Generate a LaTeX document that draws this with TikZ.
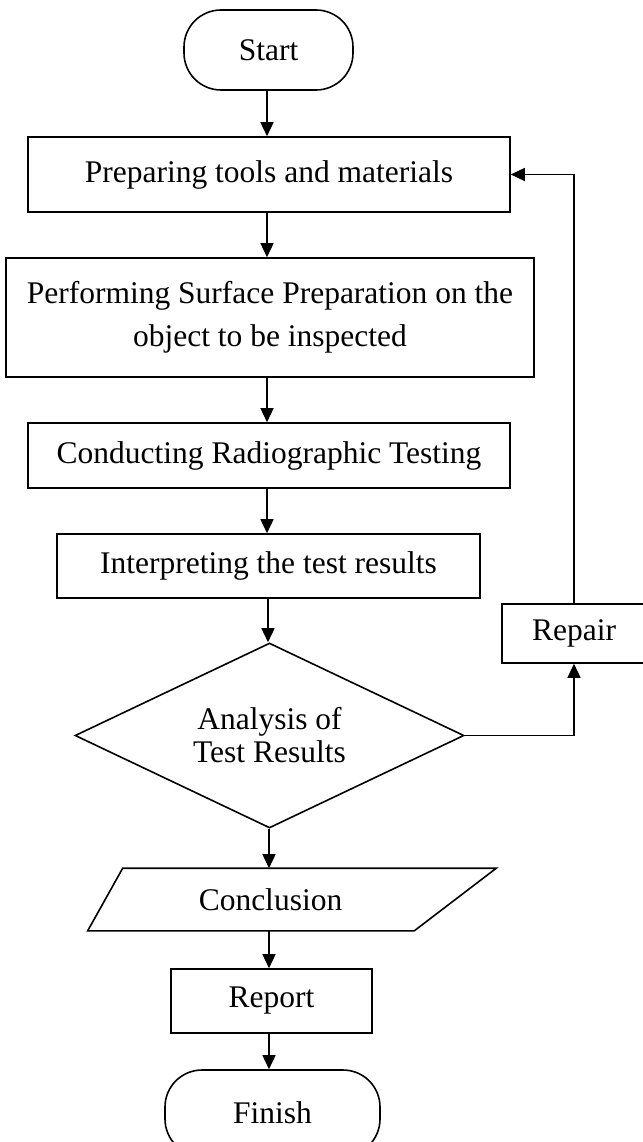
\documentclass[tikz,border=0pt]{standalone}
\usepackage{fontspec}
\setmainfont{Liberation Serif}
\usetikzlibrary{arrows.meta,shapes.geometric}
\begin{document}
\begin{tikzpicture}[x=1pt,y=-1pt,
  base/.style={line width=1.6pt, font=\fontsize{31.5}{36}\selectfont, inner sep=0pt, align=center},
  box/.style={base, draw, rectangle},
  term/.style={base, draw, rectangle, rounded corners=37pt},
  dec/.style={base, draw, diamond},
  plain/.style={base},
  arr/.style={line width=1.5pt, -{Triangle[width=13pt,length=14pt]}}
]
\useasboundingbox (0,0) rectangle (642,1142);

\node[term, minimum width=169pt, minimum height=80pt] (start) at (268.5,50) {Start};
\node[box, minimum width=482pt, minimum height=75pt] (b1) at (269,174.5) {\raisebox{6pt}{Preparing tools and materials}};
\node[box, minimum width=528pt, minimum height=119pt, font=\fontsize{31.5}{43}\selectfont] (b2) at (270,317.5) {Performing Surface Preparation on the\\object to be inspected};
\node[box, minimum width=482pt, minimum height=65pt] (b3) at (269,455.5) {Conducting Radiographic Testing};
\node[box, minimum width=423pt, minimum height=64pt] (b4) at (268.5,566) {Interpreting the test results};
\node[dec, minimum width=389pt, minimum height=185pt] (dia) at (269.5,735.5) {};
\node[plain, font=\fontsize{31.5}{33}\selectfont] (diatext) at (dia.center) {Analysis of\\Test Results};
\node[box, minimum width=144pt, minimum height=59pt] (rep) at (574,633.5) {Repair};
\node[plain, minimum width=250pt, minimum height=61pt] (concl) at (270.5,899.5) {Conclusion};
\draw[line width=1.6pt] ([xshift=-22pt]concl.north west) -- ([xshift=100pt]concl.north east) -- ([xshift=18pt]concl.south east) -- ([xshift=-57pt]concl.south west) -- cycle;
\node[box, minimum width=201pt, minimum height=64pt] (rpt) at (271.5,1001) {Report};
\node[term, minimum width=215pt, minimum height=86pt] (fin) at (272.5,1113) {\raisebox{-1pt}{Finish}};

\draw[arr] (start.south -| 267,0) -- (267,0 |- b1.north);
\draw[arr] (b1.south -| 267,0) -- (267,0 |- b2.north);
\draw[arr] (b2.south -| 267,0) -- (267,0 |- b3.north);
\draw[arr] (b3.south -| 267,0) -- (267,0 |- b4.north);
\draw[arr] (b4.south -| 268,0) -- (268,0 |- dia.north);
\draw[arr] (dia.south -| 269,0) -- (269,0 |- concl.north);
\draw[arr] (concl.south -| 269,0) -- (269,0 |- rpt.north);
\draw[arr] (rpt.south -| 269,0) -- (269,0 |- fin.north);
\draw[arr] (dia.east) -| (rep.south);
\draw[arr] (rep.north) |- (b1.east);
\end{tikzpicture}
\end{document}
